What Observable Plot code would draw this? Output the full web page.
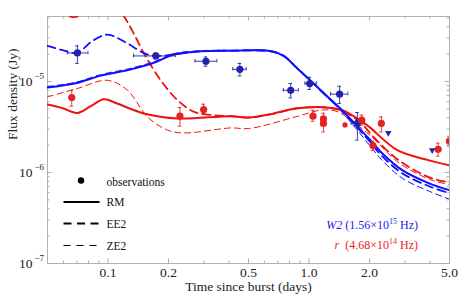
<!DOCTYPE html>
<html><head><meta charset="utf-8">
<script src="https://cdn.jsdelivr.net/npm/d3@7"></script>
<script src="https://cdn.jsdelivr.net/npm/@observablehq/plot@0.6"></script>
<style>body{margin:0;background:#fff}svg{display:block}</style>
</head><body><div id="chart"></div>
<script>
// ---------- data (time in days, flux density in Jy) ----------
const w2Obs = [
  {t:0.0704,f:2.06e-5,t0:0.0628,t1:0.0795,f0:1.58e-5,f1:2.46e-5},
  {t:0.173, f:1.91e-5,t0:0.134, t1:0.217, f0:1.78e-5,f1:2.05e-5},
  {t:0.307, f:1.67e-5,t0:0.271, t1:0.348, f0:1.47e-5,f1:1.86e-5},
  {t:0.453, f:1.36e-5,t0:0.418, t1:0.487, f0:1.15e-5,f1:1.58e-5},
  {t:0.811, f:8.0e-6, t0:0.745, t1:0.885, f0:6.6e-6, f1:9.5e-6},
  {t:1.008, f:9.5e-6, t0:0.955, t1:1.087, f0:8.17e-6,f1:1.11e-5},
  {t:1.42,  f:7.26e-6,t0:1.28,  t1:1.56,  f0:5.73e-6,f1:8.87e-6},
  {t:1.74,  f:3.46e-6,t0:1.62,  t1:1.88,  f0:2.27e-6,f1:4.56e-6}
];
const w2Limits = [ {t:2.48,f:2.72e-6}, {t:4.10,f:1.76e-6} ];
const rObs = [
  {t:0.066,f:6.67e-6,f0:5.35e-6,f1:8.0e-6},
  {t:0.228,f:4.16e-6,f0:3.23e-6,f1:5.18e-6},
  {t:0.299,f:4.92e-6,f0:4.45e-6,f1:5.63e-6},
  {t:1.047,f:4.16e-6,f0:3.66e-6,f1:4.83e-6},
  {t:1.18, f:3.88e-6,f0:3.3e-6, f1:4.48e-6},
  {t:1.18, f:3.46e-6,f0:2.79e-6,f1:3.9e-6},
  {t:1.83, f:3.76e-6,f0:3.31e-6,f1:4.27e-6},
  {t:2.29, f:3.46e-6,f0:2.79e-6,f1:4.08e-6},
  {t:2.08, f:1.98e-6,f0:1.75e-6,f1:2.2e-6},
  {t:4.39, f:1.80e-6,f0:1.51e-6,f1:2.1e-6},
  {t:5.0,  f:2.21e-6,f0:1.95e-6,f1:2.5e-6}
];
const rObsNoErr = [ {t:1.51,f:3.33e-6} ];

const w2RM = [[0.05,8.6e-6],[0.069,9.57e-6],[0.092,1.16e-5],[0.130,1.36e-5],[0.173,1.64e-5],[0.212,1.98e-5],[0.290,2.15e-5],[0.409,2.18e-5],[0.647,2.15e-5],[0.751,1.90e-5],[0.861,1.44e-5],[1.0,1.06e-5],[1.215,7.06e-6],[1.46,4.84e-6],[1.735,3.23e-6],[2.0,2.32e-6],[2.285,1.67e-6],[2.91,1.06e-6],[3.96,7.6e-7],[5.0,6.4e-7]];
const w2EE2 = [[0.05,2.46e-5],[0.0595,2.21e-5],[0.0704,2.06e-5],[0.082,2.70e-5],[0.0952,3.23e-5],[0.103,3.23e-5],[0.125,2.62e-5],[0.151,2.05e-5],[0.1735,1.91e-5],[0.212,1.98e-5],[0.290,2.15e-5],[0.409,2.18e-5],[0.647,2.15e-5],[0.751,1.90e-5],[0.861,1.44e-5],[1.0,1.06e-5],[1.215,7.0e-6],[1.46,4.75e-6],[2.0,2.21e-6],[2.285,1.55e-6],[2.91,9.8e-7],[3.96,7.06e-7],[5.0,5.92e-7]];
const w2ZE2 = [[0.05,8.8e-6],[0.069,9.8e-6],[0.092,1.19e-5],[0.130,1.40e-5],[0.173,1.68e-5],[0.212,2.02e-5],[0.290,2.18e-5],[0.409,2.2e-5],[0.647,2.17e-5],[0.751,1.92e-5],[0.861,1.45e-5],[1.0,1.05e-5],[1.215,6.9e-6],[1.46,4.6e-6],[2.0,2.0e-6],[2.285,1.40e-6],[2.91,8.66e-7],[3.96,6.23e-7],[5.0,5.09e-7]];
const rRM = [[0.05,5.58e-6],[0.0595,5.09e-6],[0.0704,4.52e-6],[0.082,5.35e-6],[0.0955,6.39e-6],[0.111,5.73e-6],[0.151,4.45e-6],[0.222,3.92e-6],[0.409,4.16e-6],[0.502,4.02e-6],[0.647,4.38e-6],[0.858,5.05e-6],[1.10,5.25e-6],[1.215,5.18e-6],[1.465,4.84e-6],[1.84,3.6e-6],[2.0,3.15e-6],[2.75,1.76e-6],[3.96,1.36e-6],[5.0,1.20e-6]];
const rEE2 = [[0.05,7.2e-5],[0.0581,6.07e-5],[0.0667,5.09e-5],[0.0775,5.77e-5],[0.0952,7.8e-5],[0.109,7.06e-5],[0.120,5.22e-5],[0.134,3.40e-5],[0.151,2.03e-5],[0.183,1.03e-5],[0.222,6.23e-6],[0.268,4.63e-6],[0.337,4.26e-6],[0.409,4.16e-6],[0.502,4.02e-6],[0.647,4.38e-6],[0.858,5.05e-6],[1.10,5.25e-6],[1.215,5.18e-6],[1.465,4.75e-6],[1.84,3.4e-6],[2.06,2.55e-6],[2.81,1.35e-6],[4.10,8.6e-7],[5.0,7.8e-7]];
const rZE2 = [[0.05,6.78e-6],[0.0704,8.38e-6],[0.0993,1.03e-5],[0.125,8.02e-6],[0.157,4.09e-6],[0.198,2.92e-6],[0.239,2.72e-6],[0.409,3.09e-6],[0.502,3.04e-6],[0.858,4.09e-6],[1.148,4.84e-6],[1.363,4.72e-6],[1.62,3.76e-6],[2.06,2.44e-6],[2.81,1.27e-6],[4.10,8.2e-7],[5.0,7.4e-7]];

// ---------- ticks ----------
const xMajor = [0.1,0.2,0.5,1,2,5];
const xLabels = ["0.1","0.2","0.5","1.0","2.0","5.0"];
const xMinor = [0.06,0.07,0.08,0.09,0.3,0.4,0.6,0.7,0.8,0.9,3,4];
const yMajor = [1e-7,1e-6,1e-5];
const yExps = ["\u22127","\u22126","\u22125"];
const yMinor = [2e-7,3e-7,4e-7,5e-7,6e-7,7e-7,8e-7,9e-7,2e-6,3e-6,4e-6,5e-6,6e-6,7e-6,8e-6,9e-6,2e-5,3e-5,4e-5,5e-5];

// ---------- layout ----------
const W = 458, H = 299, mL = 47, mR = 9, mT = 16, mB = 36;
const xDom = [0.05, 5], yDom = [1e-7, 5.18e-5];
const pxDecX = (W - mL - mR) / Math.log10(xDom[1] / xDom[0]);
const pxDecY = (H - mT - mB) / Math.log10(yDom[1] / yDom[0]);
const kx = px => Math.pow(10, px / pxDecX);
const ky = px => Math.pow(10, px / pxDecY);

const BL = "#1010ff", BP = "#2222aa", RD = "#f01010", RP = "#e52222";
const TICK = "#999";
const font = "Liberation Serif, Times New Roman, serif";

function ticksX(vals, len) {
  return [
    Plot.ruleX(vals, {x: d => d, y1: yDom[0], y2: yDom[0] * ky(len), stroke: TICK, strokeWidth: 0.8}),
    Plot.ruleX(vals, {x: d => d, y1: yDom[1], y2: yDom[1] / ky(len), stroke: TICK, strokeWidth: 0.8})
  ];
}
function ticksY(vals, len) {
  return [
    Plot.ruleY(vals, {y: d => d, x1: xDom[0], x2: xDom[0] * kx(len), stroke: TICK, strokeWidth: 0.8}),
    Plot.ruleY(vals, {y: d => d, x1: xDom[1], x2: xDom[1] / kx(len), stroke: TICK, strokeWidth: 0.8})
  ];
}
const line = (data, stroke, sw, dash) => Plot.line(data, {x: d => d[0], y: d => d[1], stroke, strokeWidth: sw, strokeDasharray: dash, curve: "catmull-rom", clip: true});

const capX = kx(1.8), capY = ky(1.8);

const chart = Plot.plot({
  width: W, height: H,
  marginLeft: mL, marginRight: mR, marginTop: mT, marginBottom: mB,
  style: {fontFamily: font, background: "#fff"},
  x: {type: "log", domain: xDom, axis: null},
  y: {type: "log", domain: yDom, axis: null},
  marks: [
    ...ticksX(xMajor, 4.5), ...ticksX(xMinor, 2.5),
    ...ticksY(yMajor, 4.5), ...ticksY(yMinor, 2.5),
    Plot.frame({stroke: "#aaa", strokeWidth: 0.9}),
    line(rZE2, RD, 1, "6,4"),
    line(w2ZE2, BL, 1, "6,4"),
    line(rEE2, RD, 1.8, "8,5"),
    line(w2EE2, BL, 1.8, "8,5"),
    line(rRM, RD, 2, null),
    line(w2RM, BL, 2, null),
    // W2 error bars
    Plot.ruleX(w2Obs, {x: "t", y1: "f0", y2: "f1", stroke: BP, strokeWidth: 0.9}),
    Plot.ruleY(w2Obs, {y: "f", x1: "t0", x2: "t1", stroke: BP, strokeWidth: 0.9}),
    Plot.ruleY(w2Obs, {y: "f0", x1: d => d.t / capX, x2: d => d.t * capX, stroke: BP, strokeWidth: 0.9}),
    Plot.ruleY(w2Obs, {y: "f1", x1: d => d.t / capX, x2: d => d.t * capX, stroke: BP, strokeWidth: 0.9}),
    Plot.ruleX(w2Obs, {x: "t0", y1: d => d.f / capY, y2: d => d.f * capY, stroke: BP, strokeWidth: 0.9}),
    Plot.ruleX(w2Obs, {x: "t1", y1: d => d.f / capY, y2: d => d.f * capY, stroke: BP, strokeWidth: 0.9}),
    // r error bars
    Plot.ruleX(rObs, {x: "t", y1: "f0", y2: "f1", stroke: RP, strokeWidth: 0.9, clip: true}),
    Plot.ruleY(rObs, {y: "f0", x1: d => d.t / capX, x2: d => d.t * capX, stroke: RP, strokeWidth: 0.9, clip: true}),
    Plot.ruleY(rObs, {y: "f1", x1: d => d.t / capX, x2: d => d.t * capX, stroke: RP, strokeWidth: 0.9, clip: true}),
    Plot.dot(w2Obs, {x: "t", y: "f", r: 3.6, fill: BP}),
    Plot.dot(rObs, {x: "t", y: "f", r: 3.6, fill: RP, clip: true}),
    Plot.dot(rObsNoErr, {x: "t", y: "f", r: 2.6, fill: RP}),
    Plot.dot(w2Limits, {x: "t", y: "f", r: 2.4, symbol: "triangle", rotate: 180, fill: BP}),
    // tick labels
    Plot.text(xMajor, {x: d => d, y: yDom[0], text: (d, i) => xLabels[i], dy: 9.5, lineAnchor: "middle", fontSize: 13.5, fill: "#222"}),
    Plot.text(yMajor, {x: xDom[0], y: d => d, text: () => "10", textAnchor: "end", dx: -15, lineAnchor: "middle", fontSize: 13.5, fill: "#222"}),
    Plot.text(yMajor, {x: xDom[0], y: d => d, text: (d, i) => yExps[i], textAnchor: "end", dx: -3.5, dy: -5.5, lineAnchor: "middle", fontSize: 9, fill: "#222"}),
    // axis titles
    Plot.text(["Time since burst (days)"], {frameAnchor: "bottom", dy: 23.5, lineAnchor: "middle", fontSize: 13.5, fill: "#222"}),
    Plot.text(["Flux density (Jy)"], {frameAnchor: "left", dx: -35, rotate: -90, lineAnchor: "middle", fontSize: 13.5, fill: "#222"})
  ]
});
document.getElementById("chart").appendChild(chart);

// ---------- legend & band labels ----------
const svg = d3.select(chart);
const g = svg.append("g").attr("font-family", font).attr("font-size", 11.5).attr("fill", "#111").attr("text-anchor", "start");
g.append("circle").attr("cx", 81).attr("cy", 180.5).attr("r", 3.2).attr("fill", "#000");
const legend = [
  {label: "observations", y: 181.7},
  {label: "RM", y: 202, sw: 2, dash: null},
  {label: "EE2", y: 223.5, sw: 2, dash: "8,5.5"},
  {label: "ZE2", y: 245.5, sw: 1, dash: "7,6"}
];
legend.forEach((d, i) => {
  if (i > 0) g.append("line").attr("x1", 63.5).attr("x2", 99.5).attr("y1", d.y).attr("y2", d.y)
    .attr("stroke", "#000").attr("stroke-width", d.sw).attr("stroke-dasharray", d.dash);
  g.append("text").attr("x", 106.5).attr("y", d.y).attr("dy", "0.35em").attr("text-anchor", "start").text(d.label);
});
function bandLabel(y, color, name, value, exp) {
  const t = svg.append("text").attr("x", 418).attr("y", y).attr("dy", "0.35em").attr("text-anchor", "end")
    .attr("font-family", font).attr("font-size", 12).attr("fill", color);
  t.append("tspan").attr("font-style", "italic").text(name);
  t.append("tspan").text(value + "\u00d710");
  t.append("tspan").attr("font-size", 8).attr("dy", -5).text(exp);
  t.append("tspan").attr("dy", 5).text(" Hz)");
}
bandLabel(225, "#1a1aee", "W2", " (1.56", "15");
bandLabel(244.5, "#ee1a1a", "r", "  (4.68", "14");
</script>
</body></html>
